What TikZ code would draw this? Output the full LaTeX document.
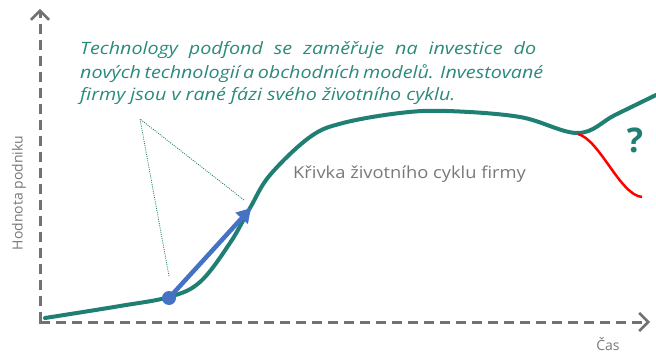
\documentclass[tikz,border=0pt]{standalone}
\usepackage{fontspec}
\setmainfont{Open Sans}
\newfontfamily\widefont[FakeStretch=1.16]{Open Sans}
\newfontfamily\midfont[FakeStretch=1.11]{Open Sans}
\usetikzlibrary{arrows.meta}
\definecolor{tealc}{HTML}{1F7F72}
\definecolor{tealt}{HTML}{2A8A7B}
\definecolor{axisgray}{HTML}{767171}
\definecolor{textgray}{HTML}{7A7777}
\definecolor{bluec}{HTML}{4472C4}
\tikzset{
  axisline/.style={draw=axisgray, line width=3pt, dash pattern=on 10pt off 6pt,
    -{Straight Barb[length=9pt,width=18pt,line width=2.6pt]}},
  lifecurve/.style={draw=tealc, line width=4pt, line cap=round},
  redcurve/.style={draw=red, line width=2.5pt},
  pointer/.style={draw=tealc, line width=0.8pt, dash pattern=on 1pt off 1.2pt},
  greentext/.style={inner sep=0pt, anchor=base west, text=tealt,
    font=\widefont\fontsize{17}{20}\selectfont\itshape},
  graytext/.style={inner sep=0pt, text=textgray},
}
\begin{document}
\begin{tikzpicture}[x=1pt,y=-1pt]
\useasboundingbox (0,0) rectangle (656,353);
\coordinate (origin) at (40,322);
\coordinate (ytop) at (40,9);
\coordinate (xend) at (650,322);
\draw[axisline] (origin) -- (ytop);
\draw[axisline] (origin) -- (xend);
\draw[axisgray, line width=3pt] (40,314) -- (origin) -- (48,322);

\node[graytext, rotate=90, font=\fontsize{14}{16}\selectfont] (ylab) at (19,193) {Hodnota podniku};
\node[graytext, font=\fontsize{14}{16}\selectfont] (xlab) at (608,344) {Čas};

\node[greentext] (t1) at (80,55) {\makebox[456pt][s]{Technology podfond se zaměřuje na investice do}};
\node[greentext] (t2) at (80,78) {\makebox[456pt][s]{nových technologií a obchodních modelů. Investované}};
\node[greentext] (t3) at (80,100) {firmy jsou v rané fázi svého životního cyklu.};

\node[graytext, anchor=base west, font=\midfont\fontsize{16.5}{18}\selectfont] (clab) at (293,178) {Křivka životního cyklu firmy};

\node[text=tealc, font=\fontsize{34}{36}\selectfont\bfseries, inner sep=0pt] (q) at (635,140) {?};

\draw[lifecurve] plot[smooth, tension=0.6] coordinates {
  (45,318) (120,306) (169,297) (200,282) (230,243) (250,208) (270,175)
  (310,137) (343,123) (400,113) (447,111) (520,117) (578,133) (615,115) (656,95)};
\coordinate (dip) at (578,134);
\coordinate (redend) at (642,197);
\draw[redcurve] (dip) .. controls (600,140) and (620,195) .. (redend);

\coordinate (apex) at (140,119);
\coordinate (pend1) at (169,276);
\coordinate (pend2) at (244,200);
\draw[pointer] (pend1) -- (apex) -- (pend2);

\node[circle, fill=bluec, inner sep=0pt, minimum size=14pt] (dot) at (169,298) {};
\coordinate (tip) at (251,208);
\draw[draw=bluec, line width=4.5pt, -{Triangle[length=14pt,width=16pt]}] (dot.center) -- (tip);
\end{tikzpicture}
\end{document}
